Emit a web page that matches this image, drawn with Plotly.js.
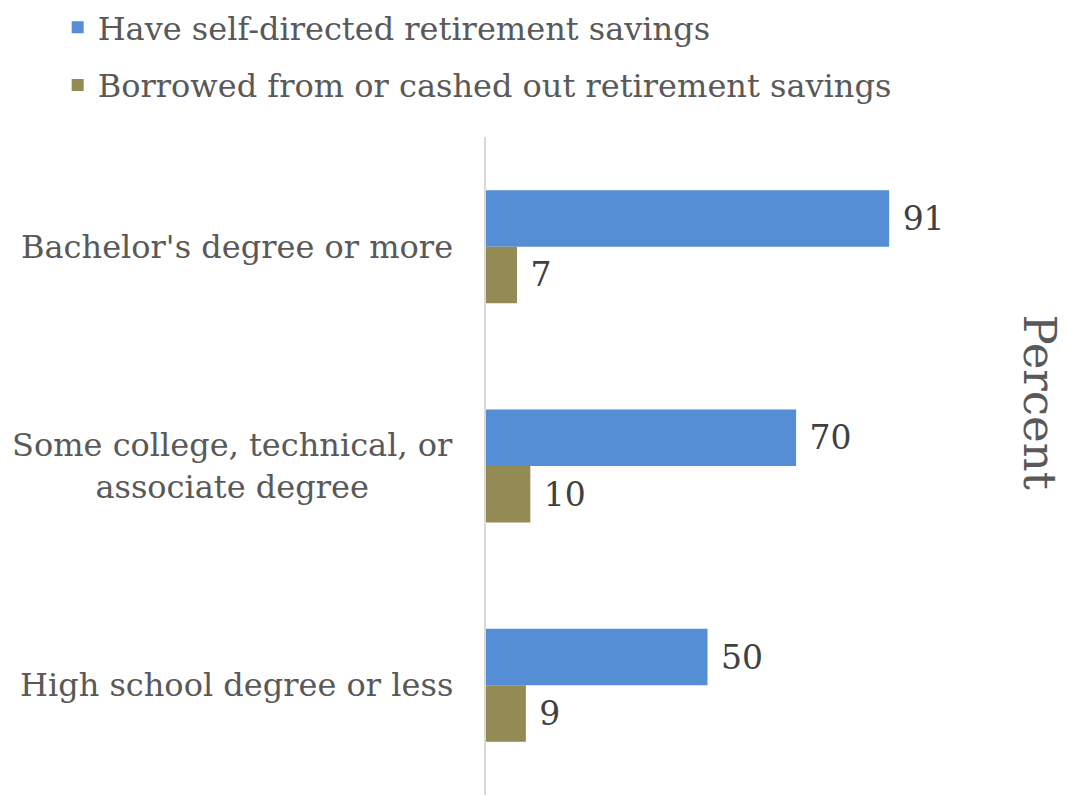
<!DOCTYPE html>
<html>
<head>
<meta charset="utf-8">
<script src="https://cdn.plot.ly/plotly-3.0.1.min.js"></script>
<style>html,body{margin:0;padding:0;background:#fff;}#chart{width:1068px;height:795px;}</style>
</head>
<body>
<div id="chart"></div>
<script>
const categories = ["Bachelor's degree or more", "Some college, technical, or<br>associate degree", "High school degree or less"];
const seriesNames = ["Have self-directed retirement savings", "Borrowed from or cashed out retirement savings"];
const haveSavings = [91, 70, 50];
const borrowed = [7, 10, 9];
const axisTitle = "Percent";

const FONT = "DejaVu Serif, Georgia, serif";
const TXT = "#595959";

const traces = [
  {type: 'bar', orientation: 'h', name: seriesNames[0], y: categories, x: haveSavings,
   marker: {color: '#558ED5'}, legendgroup: 'a',
   texttemplate: '\u00a0%{x}', textposition: 'outside', cliponaxis: false,
   textfont: {family: FONT, size: 33, color: '#404040'}},
  {type: 'bar', orientation: 'h', name: seriesNames[1], y: categories, x: borrowed,
   marker: {color: '#948A54'}, legendgroup: 'b',
   texttemplate: '\u00a0%{x}', textposition: 'outside', cliponaxis: false,
   textfont: {family: FONT, size: 33, color: '#404040'}}
];

const annotations = categories.map(c => ({
  xref: 'paper', yref: 'y', x: 0, y: c, xanchor: 'right', yanchor: 'middle',
  xshift: -31, align: 'center', showarrow: false, text: c,
  font: {family: FONT, size: 32, color: TXT}
}));
annotations.push({
  xref: 'paper', yref: 'paper', x: 1.25, y: 0.597, xanchor: 'center', yanchor: 'middle',
  textangle: 90, showarrow: false, text: axisTitle,
  font: {family: FONT, size: 45, color: TXT}
});

const layout = {
  width: 1068, height: 795,
  margin: {l: 486, r: 139, t: 137, b: 0, autoexpand: false},
  paper_bgcolor: '#fff', plot_bgcolor: '#fff',
  barmode: 'group', bargap: 0.485, bargroupgap: 0,
  font: {family: FONT, color: TXT},
  xaxis: {range: [0, 100], showgrid: false, zeroline: false, showline: false,
          showticklabels: false, ticks: ''},
  yaxis: {autorange: 'reversed', showgrid: false, zeroline: false, showline: true,
          linecolor: '#d9d9d9', linewidth: 2, showticklabels: false, ticks: ''},
  showlegend: true,
  legend: {xref: 'container', yref: 'container', x: 0.054, xanchor: 'left', y: 1.012, yanchor: 'top',
           orientation: 'v', traceorder: 'grouped', tracegroupgap: 13,
           font: {family: FONT, size: 32, color: TXT}, bgcolor: 'rgba(0,0,0,0)'},
  annotations: annotations
};

Plotly.newPlot('chart', traces, layout, {displayModeBar: false, staticPlot: true});
</script>
</body>
</html>
